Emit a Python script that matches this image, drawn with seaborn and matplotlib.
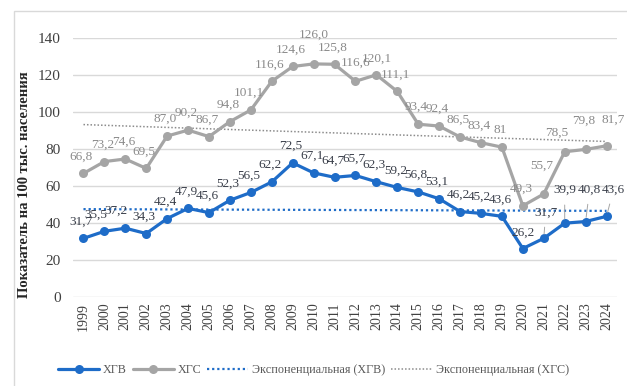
import numpy as np
import pandas as pd
import matplotlib
matplotlib.use("Agg")
import matplotlib.pyplot as plt
import seaborn as sns
from matplotlib.lines import Line2D
from matplotlib.patches import Rectangle

years = list(range(1999, 2025))
xgv = [31.7, 35.5, 37.2, 34.3, 42.4, 47.9, 45.6, 52.3, 56.5, 62.2, 72.5, 67.1, 64.7,
       65.7, 62.3, 59.2, 56.8, 53.1, 46.2, 45.2, 43.6, 26.2, 31.7, 39.9, 40.8, 43.6]
xgs = [66.8, 73.2, 74.6, 69.5, 87.0, 90.2, 86.7, 94.8, 101.1, 116.6, 124.6, 126.0, 125.8,
       116.6, 120.1, 111.1, 93.4, 92.4, 86.5, 83.4, 81.0, 49.3, 55.7, 78.5, 79.8, 81.7]
xgs_text = {20: "81"}

c_xgv = "#1E6CC8"
c_xgs = "#A5A5A5"

sns.set_style("white")
plt.rcParams["font.family"] = ["Liberation Serif", "DejaVu Serif"]

df = pd.DataFrame({"pos": np.arange(len(years)), "ХГВ": xgv, "ХГС": xgs})

fig = plt.figure(figsize=(6.27, 3.86), dpi=100)
ax = fig.add_axes([73 / 627, 1 - 297 / 386, 544 / 627, 259 / 386])

sns.lineplot(data=df, x="pos", y="ХГС", color=c_xgs, lw=2.3, marker="o", ms=6.5,
             markeredgewidth=0, ax=ax, zorder=3)
sns.lineplot(data=df, x="pos", y="ХГВ", color=c_xgv, lw=2.3, marker="o", ms=6.5,
             markeredgewidth=0, ax=ax, zorder=4)

# exponential trend lines (fit of ln y)
x = df["pos"].values
for col, c, lw in [("ХГВ", c_xgv, 1.6), ("ХГС", "#8C8C8C", 1.1)]:
    b, a = np.polyfit(x, np.log(df[col].values), 1)
    ax.plot(x, np.exp(a + b * x), ls=(0, (1, 1.3)), color=c, lw=lw, zorder=2)

# data labels: offsets in pixels (dx, dy)
px = 72 / 100
def put(vals, color, special, leader, texts={}):
    for i, v in enumerate(vals):
        t = texts.get(i, f"{v:.1f}".replace(".", ","))
        dx, dy = special.get(i, (-2, 17))
        kw = {}
        if i in leader:
            kw["arrowprops"] = dict(arrowstyle="-", color="#A6A6A6", lw=0.7,
                                    shrinkA=4, shrinkB=3)
        ax.annotate(t, (i, v), xytext=(dx * px, dy * px), textcoords="offset points",
                    ha="center", va="center", fontsize=9.5, color=color, zorder=5, **kw)

put(xgv, "#3A3F4A", {1: (-9, 17), 2: (-9, 17), 21: (0, 16), 22: (2, 26), 23: (0, 33),
                     24: (4, 32), 25: (7, 27)}, {22, 23, 24, 25})
put(xgs, "#8A8A8A", {11: (0, 29), 13: (0, 19), 14: (0, 16), 22: (-2, 28),
                     23: (-8, 19), 24: (-2, 29), 25: (7, 26)}, set(), xgs_text)

ax.set_xlim(-0.5, len(years) - 0.5)
ax.set_ylim(0, 140)
ax.set_yticks(range(0, 141, 20))
ax.set_xticks(x)
ax.set_xticklabels(years, rotation=90, fontsize=10, color="#404040")
ax.tick_params(axis="y", labelsize=11, labelcolor="#404040", length=0, pad=9)
ax.tick_params(axis="x", length=0, pad=4)
ax.grid(axis="y", color="#D9D9D9", lw=1)
ax.set_xlabel("")
ax.set_ylabel("")
for s in ax.spines.values():
    s.set_visible(False)

fig.text(25 / 627, 1 - 185 / 386, "Показатель на 100 тыс. населения", rotation=90,
         ha="center", va="center", fontsize=10.5, fontweight="bold", color="#262626")

handles = [
    Line2D([], [], color=c_xgv, lw=2.3, marker="o", ms=6.5, markeredgewidth=0),
    Line2D([], [], color=c_xgs, lw=2.3, marker="o", ms=6.5, markeredgewidth=0),
    Line2D([], [], color=c_xgv, lw=1.6, ls=(0, (1, 1.3))),
    Line2D([], [], color="#8C8C8C", lw=1.1, ls=(0, (1, 1.3))),
]
labels = ["ХГВ", "ХГС", "Экспоненциальная (ХГВ)", "Экспоненциальная (ХГС)"]
fig.legend(handles, labels, loc="center", bbox_to_anchor=(0.5, 1 - 370 / 386), ncol=4,
           frameon=False, fontsize=8.7, handlelength=3.4, handletextpad=0.3,
           columnspacing=0.5, labelcolor="#595959")

fig.patches.append(Rectangle((14 / 627, -0.1), 1.2, 1.1 - 11 / 386, transform=fig.transFigure,
                             fill=False, edgecolor="#D9D9D9", lw=1))

fig.savefig("out.png", dpi=100)
